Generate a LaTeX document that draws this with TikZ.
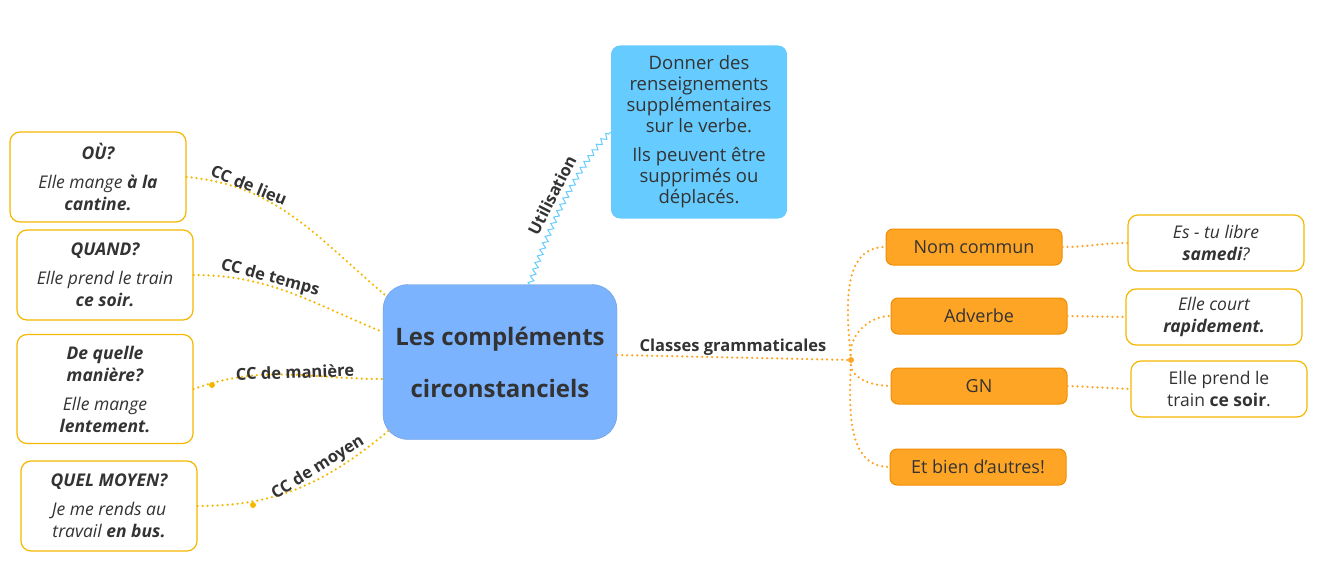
\documentclass[tikz,border=0pt]{standalone}
\usepackage{fontspec}
\setmainfont{Open Sans}
\usepackage{xcolor}
\usetikzlibrary{positioning, calc, decorations.pathmorphing}
\definecolor{textgray}{HTML}{333333}
\definecolor{hubblue}{HTML}{7BB3FF}
\definecolor{useblue}{HTML}{66CCFF}
\definecolor{linkorange}{HTML}{F5B800}
\definecolor{tagorange}{HTML}{FFA526}
\definecolor{rimorange}{HTML}{F08C00}

\begin{document}
\begin{tikzpicture}[
    x=1pt, y=-1pt,
    every node/.style={text=textgray},
    hub/.style={draw=hubblue!85!black, fill=hubblue, rounded corners=25pt, minimum width=234pt, minimum height=155pt, align=center, font=\fontsize{24}{52}\selectfont\bfseries},
    infobox/.style={fill=useblue, rounded corners=9pt, minimum width=176pt, minimum height=173pt, align=center, font=\fontsize{18.5}{21}\selectfont},
    askbox/.style={draw=linkorange, line width=1.2pt, fill=white, rounded corners=10pt, minimum width=176pt, align=center, font=\fontsize{17.5}{22}\selectfont\itshape},
    classbox/.style={draw=rimorange, line width=1pt, fill=tagorange, rounded corners=7pt, minimum width=176pt, minimum height=36pt, font=\fontsize{18}{20}\selectfont},
    ex/.style={askbox, minimum height=56pt},
    link/.style={linkorange, line width=2.5pt, line cap=round, dash pattern=on 0pt off 5pt},
    classlink/.style={link, tagorange},
    tag/.style={font=\fontsize{16.5}{19}\selectfont\bfseries, inner sep=1pt},
    knot/.style={circle, fill=#1, inner sep=0pt, minimum size=6pt}
]
\useasboundingbox (0,0) rectangle (1319,588);

% centre
\node[hub] (hub) at (500,362) {Les compléments\\circonstanciels};

% utilisation
\node[infobox] (use) at (699,132) {Donner des\\renseignements\\supplémentaires\\sur le verbe.\\[8pt]Ils peuvent être\\supprimés ou\\déplacés.};
\draw[useblue, line width=1pt, decorate, decoration={zigzag, segment length=7pt, amplitude=2.5pt}]
    (530,285) .. controls (545,235) and (580,160) .. (use.west);
\node[tag, rotate=63] (useTag) at (552,195) {Utilisation};

% questions a gauche
\node[askbox, minimum height=90pt] (lieu) at (98,177) {\textbf{OÙ?}\\[7pt]Elle mange \textbf{à la}\\\textbf{cantine.}};
\node[askbox, minimum height=90pt] (temps) at (105,275) {\textbf{QUAND?}\\[7pt]Elle prend le train\\\textbf{ce soir.}};
\node[askbox, minimum height=109pt] (maniere) at (105,389) {\textbf{De quelle}\\\textbf{manière?}\\[7pt]Elle mange\\\textbf{lentement.}};
\node[askbox, minimum height=90pt] (moyen) at (109,506) {\textbf{QUEL MOYEN?}\\[7pt]Je me rends au\\travail \textbf{en bus.}};

\draw[link] (lieu.east) to[out=-5, in=140] ($(hub.north west)+(5,13)$);
\draw[link] (temps.east) to[out=0, in=158] ($(hub.west)+(0,-30)$);
\draw[link] (maniere.east) to[out=20, in=180] ($(hub.west)+(0,17)$);
\draw[link] (moyen.east) to[out=0, in=-140] ($(hub.south west)+(7,-10)$);
\node[knot=linkorange] (manKnot) at (212,385) {};
\node[knot=linkorange] (moyKnot) at (253,505) {};

\node[tag, rotate=-22] (lieuTag) at (249,185) {CC de lieu};
\node[tag, rotate=-15] (tempsTag) at (270,278) {CC de temps};
\node[tag, rotate=2] (manTag) at (295,372) {CC de manière};
\node[tag, rotate=32] (moyTag) at (318,468) {CC de moyen};

% classes a droite
\coordinate (fork) at (851,360);
\draw[classlink] (hub.east) ++(0,-7) to (fork);
\node[knot=tagorange] (forkKnot) at (fork) {};
\node[tag] (classTag) at (733,347) {Classes grammaticales};

\node[classbox] (nom) at (974,247) {Nom commun};
\node[classbox] (adv) at (979,316) {Adverbe};
\node[classbox] (gn) at (979,386) {GN};
\node[classbox] (autres) at (978,467) {Et bien d'autres!};

\draw[classlink] (fork) to[out=95, in=180] (nom.west);
\draw[classlink] (fork) to[out=100, in=180] (adv.west);
\draw[classlink] (fork) to[out=-100, in=180] (gn.west);
\draw[classlink] (fork) to[out=-92, in=180] (autres.west);

\node[ex] (samedi) at (1216,243) {Es - tu libre\\\textbf{samedi}?};
\node[ex] (court) at (1214,317) {Elle court\\\textbf{rapidement.}};
\node[ex, font=\fontsize{17.5}{22}\selectfont] (soir) at (1219,389) {Elle prend le\\train \textbf{ce soir}.};

\draw[classlink] (nom.east) to[out=0, in=180] (samedi.west);
\draw[classlink] (adv.east) to (court.west);
\draw[classlink] (gn.east) to (soir.west);
\end{tikzpicture}
\end{document}
